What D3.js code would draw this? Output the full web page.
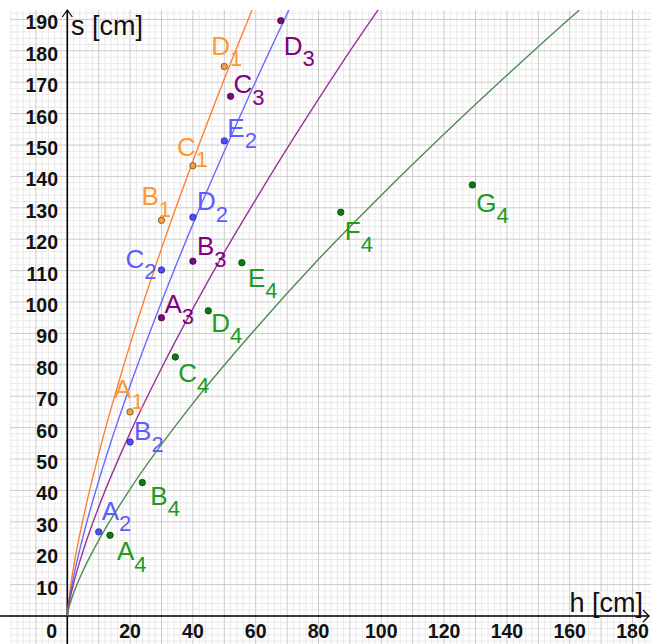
<!DOCTYPE html>
<html><head><meta charset="utf-8">
<script src="https://cdn.jsdelivr.net/npm/d3@7"></script>
<style>html,body{margin:0;padding:0;background:#fff;}svg{display:block;}</style>
</head><body><div id="chart"></div>
<script>
// ---- data ----
const xTickValues = [20, 40, 60, 80, 100, 120, 140, 160, 180];
const yTickValues = [10, 20, 30, 40, 50, 60, 70, 80, 90, 100, 110, 120, 130, 140, 150, 160, 170, 180, 190];
const xTitle = "h [cm]";
const yTitle = "s [cm]";

// measured points per series
const names1 = ["A", "B", "C", "D"];
const h1 = [20, 30, 40, 50];
const s1 = [65, 126, 143.4, 175];

const names2 = ["A", "B", "C", "D", "E"];
const h2 = [10, 20, 30, 40, 50];
const s2 = [26.8, 55.4, 110.2, 127, 151.3];

const names3 = ["A", "B", "C", "D"];
const h3 = [30, 40, 52, 68];
const s3 = [95, 113, 165.5, 189.6];

const names4 = ["A", "B", "C", "D", "E", "F", "G"];
const h4 = [13.6, 23.9, 34.4, 44.9, 55.6, 87.1, 129];
const s4 = [25.7, 42.5, 82.5, 97.2, 112.5, 128.6, 137.3];

// fitted curves
const curve1H = [0, 0.5, 1, 2, 5, 10, 20, 30, 40, 50, 60];
const curve1S = [0, 5.5, 9.3, 15.6, 30.8, 51.6, 86.5, 117, 144.8, 171, 195.8];
const curve2H = [0, 0.5, 1, 2, 5, 10, 20, 30, 40, 50, 60, 72];
const curve2S = [0, 4.3, 7.3, 12.5, 25.3, 43, 73.3, 100, 124.8, 148, 170.3, 196];
const curve3H = [0, 0.5, 1, 2, 5, 10, 20, 30, 40, 50, 60, 70, 80, 90, 100];
const curve3S = [0, 3.7, 6.2, 10.4, 20.6, 34.7, 58.3, 78.9, 97.9, 115.8, 132.6, 148.9, 164.6, 179.9, 194.5];
const curve4H = [0, 0.5, 1, 2, 5, 10, 20, 40, 60, 80, 100, 120, 140, 160, 170];
const curve4S = [0, 2.6, 4.3, 7.3, 14.4, 24.1, 40.4, 67.7, 91.5, 113.6, 134, 153.5, 172.2, 190.3, 199];

// ---- layout / style (kept apart from data) ----
const W = 651, H = 644;
const label1Off = [[-16, -14], [-20, -15], [-16, -10], [-13, -12]];
const label2Off = [[3, -12], [4, -2], [-36, -2], [4, -7], [3, -4]];
const label3Off = [[3, -5], [4, -6], [3, -3], [3, 34]];
const label4Off = [[7, 25], [8, 22], [3, 25], [3, 21], [6, 24], [4, 28], [4, 27]];

const series = [
  {sub: "1", names: names1, h: h1, s: s1, ch: curve1H, cs: curve1S, off: label1Off,
   line: "#ff8030", fill: "#f5a040", stroke: "#6a4a20", text: "#ff9933"},
  {sub: "2", names: names2, h: h2, s: s2, ch: curve2H, cs: curve2S, off: label2Off,
   line: "#6a6aff", fill: "#4d4dff", stroke: "#2a2a8a", text: "#5c5cff"},
  {sub: "3", names: names3, h: h3, s: s3, ch: curve3H, cs: curve3S, off: label3Off,
   line: "#993399", fill: "#7a0a7a", stroke: "#4a004a", text: "#800080"},
  {sub: "4", names: names4, h: h4, s: s4, ch: curve4H, cs: curve4S, off: label4Off,
   line: "#4e8c4e", fill: "#107a10", stroke: "#064006", text: "#1f9a1f"}
];

const x = d3.scaleLinear().domain([0, 180]).range([67.3, 67.3 + 180 * 3.14]);
const y = d3.scaleLinear().domain([0, 190]).range([616, 616 - 190 * 3.14]);

const svg = d3.select("#chart").append("svg").attr("width", W).attr("height", H)
  .style("font-family", "Arial, 'Liberation Sans', sans-serif");

const gridTop = 10, gridLeft = 10;
svg.append("clipPath").attr("id", "gclip").append("rect")
  .attr("x", gridLeft).attr("y", gridTop).attr("width", W - gridLeft).attr("height", H - gridTop);

// grid
const grid = svg.append("g").attr("clip-path", "url(#gclip)");
const minorX = d3.range(-20, 192, 2), minorY = d3.range(-10, 200, 2);
grid.selectAll("line.mx").data(minorX.filter(v => v % 10 !== 0)).join("line")
  .attr("x1", d => x(d)).attr("x2", d => x(d)).attr("y1", 0).attr("y2", H)
  .attr("stroke", "#e9e9e9").attr("stroke-width", 1);
grid.selectAll("line.my").data(minorY.filter(v => v % 10 !== 0)).join("line")
  .attr("y1", d => y(d)).attr("y2", d => y(d)).attr("x1", 0).attr("x2", W)
  .attr("stroke", "#e9e9e9").attr("stroke-width", 1);
grid.selectAll("line.Mx").data(d3.range(-20, 192, 10)).join("line")
  .attr("x1", d => x(d)).attr("x2", d => x(d)).attr("y1", 0).attr("y2", H)
  .attr("stroke", "#cbcbcb").attr("stroke-width", 1);
grid.selectAll("line.My").data(d3.range(-10, 200, 10)).join("line")
  .attr("y1", d => y(d)).attr("y2", d => y(d)).attr("x1", 0).attr("x2", W)
  .attr("stroke", "#cbcbcb").attr("stroke-width", 1);

// axes
const x0 = x(0), y0 = y(0);
svg.append("line").attr("x1", 0).attr("x2", 649).attr("y1", y0).attr("y2", y0)
  .attr("stroke", "#000").attr("stroke-width", 1.6);
svg.append("line").attr("x1", x0).attr("x2", x0).attr("y1", 11).attr("y2", H)
  .attr("stroke", "#000").attr("stroke-width", 1.6);
svg.append("path").attr("d", `M${x0 - 5},${17} L${x0},${10} L${x0 + 5},${17}`)
  .attr("fill", "none").attr("stroke", "#000").attr("stroke-width", 1.2);
svg.append("path").attr("d", `M${643},${y0 - 6} L${649},${y0} L${643},${y0 + 6}`)
  .attr("fill", "none").attr("stroke", "#000").attr("stroke-width", 1.2);

// tick labels
const tickFont = 19.5;
svg.selectAll("text.yt").data(yTickValues).join("text")
  .attr("x", 58).attr("y", d => y(d) + 10).attr("text-anchor", "end")
  .attr("font-weight", "bold").attr("font-size", tickFont).attr("fill", "#111").text(d => d);
svg.selectAll("text.xt").data(xTickValues).join("text")
  .attr("x", d => x(d)).attr("y", 638).attr("text-anchor", "middle")
  .attr("font-weight", "bold").attr("font-size", tickFont).attr("fill", "#111").text(d => d);
svg.append("text").attr("x", 57).attr("y", 638).attr("text-anchor", "end")
  .attr("font-weight", "bold").attr("font-size", tickFont).attr("fill", "#111").text("0");

// axis titles
svg.append("text").attr("x", 71).attr("y", 35).attr("font-size", 27).attr("fill", "#111").text(yTitle);
svg.append("text").attr("x", 643).attr("y", 612).attr("text-anchor", "end")
  .attr("font-size", 27).attr("fill", "#111").text(xTitle);

// curves
svg.append("clipPath").attr("id", "cclip").append("rect")
  .attr("x", x0).attr("y", gridTop).attr("width", W - x0).attr("height", y0 - gridTop);
const lineGen = d3.line().x(d => x(d[0])).y(d => y(d[1])).curve(d3.curveMonotoneX);
const curvesG = svg.append("g").attr("clip-path", "url(#cclip)");
series.forEach(sr => {
  curvesG.append("path").datum(sr.ch.map((h, i) => [h, sr.cs[i]]))
    .attr("d", lineGen).attr("fill", "none").attr("stroke", sr.line).attr("stroke-width", 1.4);
});

// points + labels
series.forEach(sr => {
  const pts = sr.h.map((h, i) => ({h, s: sr.s[i], n: sr.names[i], off: sr.off[i]}));
  const g = svg.append("g");
  g.selectAll("circle").data(pts).join("circle")
    .attr("cx", d => x(d.h)).attr("cy", d => y(d.s)).attr("r", 3.2)
    .attr("fill", sr.fill).attr("stroke", sr.stroke).attr("stroke-width", 0.8);
  const t = g.selectAll("text").data(pts).join("text")
    .attr("x", d => x(d.h) + d.off[0]).attr("y", d => y(d.s) + d.off[1])
    .attr("fill", sr.text).attr("font-size", 26);
  t.append("tspan").text(d => d.n);
  t.append("tspan").attr("dy", 11.5).attr("font-size", 22).text(sr.sub);
});
</script>
</body></html>
